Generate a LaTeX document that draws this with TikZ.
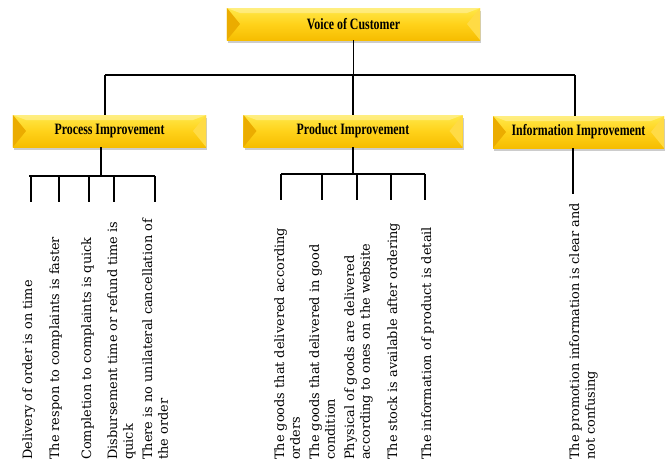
\documentclass[tikz,border=0pt]{standalone}
\usepackage{fontspec}
\setmainfont{DejaVu Serif}
\newfontfamily\headfont{Liberation Serif}
\usepackage{graphicx}
\usetikzlibrary{shadows}

\definecolor{boxtop}{HTML}{FFE84A}
\definecolor{boxmid}{HTML}{FFD21A}
\definecolor{boxbot}{HTML}{F6BD00}
\definecolor{bevleft}{HTML}{EBAC00}
\definecolor{bevright}{HTML}{FFDB45}

\newcommand{\headtext}[1]{\scalebox{0.75}[1]{#1}}

\tikzset{
  headbox/.style={minimum height=0.96cm, inner sep=0pt,
    top color=boxtop, bottom color=boxbot, middle color=boxmid,
    drop shadow={shadow xshift=1pt, shadow yshift=-2.5pt, fill=black!40, opacity=0.5},
    path picture={
      \fill[bevleft] (path picture bounding box.north west) -- ([xshift=0.39cm]path picture bounding box.west) -- (path picture bounding box.south west) -- cycle;
      \fill[bevright] (path picture bounding box.north east) -- ([xshift=-0.39cm]path picture bounding box.east) -- (path picture bounding box.south east) -- cycle;
      \fill[white, opacity=0.3] (path picture bounding box.north west) -- ([xshift=0.39cm, yshift=-0.15cm]path picture bounding box.north west) -- ([xshift=-0.39cm, yshift=-0.15cm]path picture bounding box.north east) -- (path picture bounding box.north east) -- cycle;
    },
    font=\headfont\bfseries\fontsize{13.5}{14}\selectfont},
  item/.style={rotate=90, anchor=north west, inner sep=0pt, align=left,
    font=\fontsize{11}{13.5}\selectfont},
  tree/.style={line width=1.3pt}
}

\begin{document}
\begin{tikzpicture}[x=0.03cm, y=-0.03cm]
  \useasboundingbox (0,0) rectangle (669,464);

  % boxes
  \node[headbox, minimum width=7.59cm] (voc) at (353.5,24) {\headtext{Voice of Customer}};
  \node[headbox, minimum width=5.79cm] (proc) at (109.5,131) {\headtext{Process Improvement}};
  \node[headbox, minimum width=6.57cm] (prod) at (353,131) {\headtext{Product Improvement}};
  \node[headbox, minimum width=5.13cm] (info) at (578.5,132) {\headtext{Information Improvement}};

  % main branch
  \coordinate (barL) at (105,75);
  \coordinate (barR) at (575,75);
  \draw[tree] (voc.south) -- (voc.south |- barL);
  \draw[tree] (barL) -- (barR);
  \draw[tree] (barL) -- (barL |- proc.north);
  \draw[tree] (prod.north) -- (prod.north |- barL);
  \draw[tree] (barR) -- (barR |- info.north);

  % process branch
  \coordinate (pbar) at (101,176);
  \draw[tree] (proc.south -| pbar) -- (pbar);
  \foreach \x [count=\i] in {31,59,89,114,155} {
    \coordinate (p\i) at (\x,176);
    \coordinate (p\i e) at (\x,202);
    \draw[tree] (p\i) -- (p\i e);
  }
  \draw[tree] ([xshift=-0.06cm]p1) -- (p5);

  % product branch
  \coordinate (dbar) at (353,174);
  \draw[tree] (prod.south -| dbar) -- (dbar);
  \foreach \x [count=\i] in {281,322,357,391,425} {
    \coordinate (d\i) at (\x,174);
    \coordinate (d\i e) at (\x,200);
    \draw[tree] (d\i) -- (d\i e);
  }
  \draw[tree] (d1) -- (d5);

  % information branch
  \coordinate (i1e) at (573,194);
  \draw[tree] (info.south -| i1e) -- (i1e);

  % items
  \foreach \x/\txt [count=\i] in {
    22/{Delivery of order is on time},
    49/{The respon to complaints is faster},
    81/{Completion to complaints is quick},
    107/{Disbursement time or refund time is\\quick},
    142/{There is no unilateral cancellation of\\the order}} {
    \node[item] (pitem\i) at (\x,460) {\txt};
  }
  \foreach \x/\txt [count=\i] in {
    274/{The goods that delivered according\\orders},
    309/{The goods that delivered in good\\condition},
    344/{Physical of goods are delivered\\according to ones on the website},
    387/{The stock is available after ordering},
    421/{The information of product is detail}} {
    \node[item] (ditem\i) at (\x,460) {\txt};
  }
  \node[item] (iitem1) at (569,460) {The promotion information is clear and\\not confusing};
\end{tikzpicture}
\end{document}
